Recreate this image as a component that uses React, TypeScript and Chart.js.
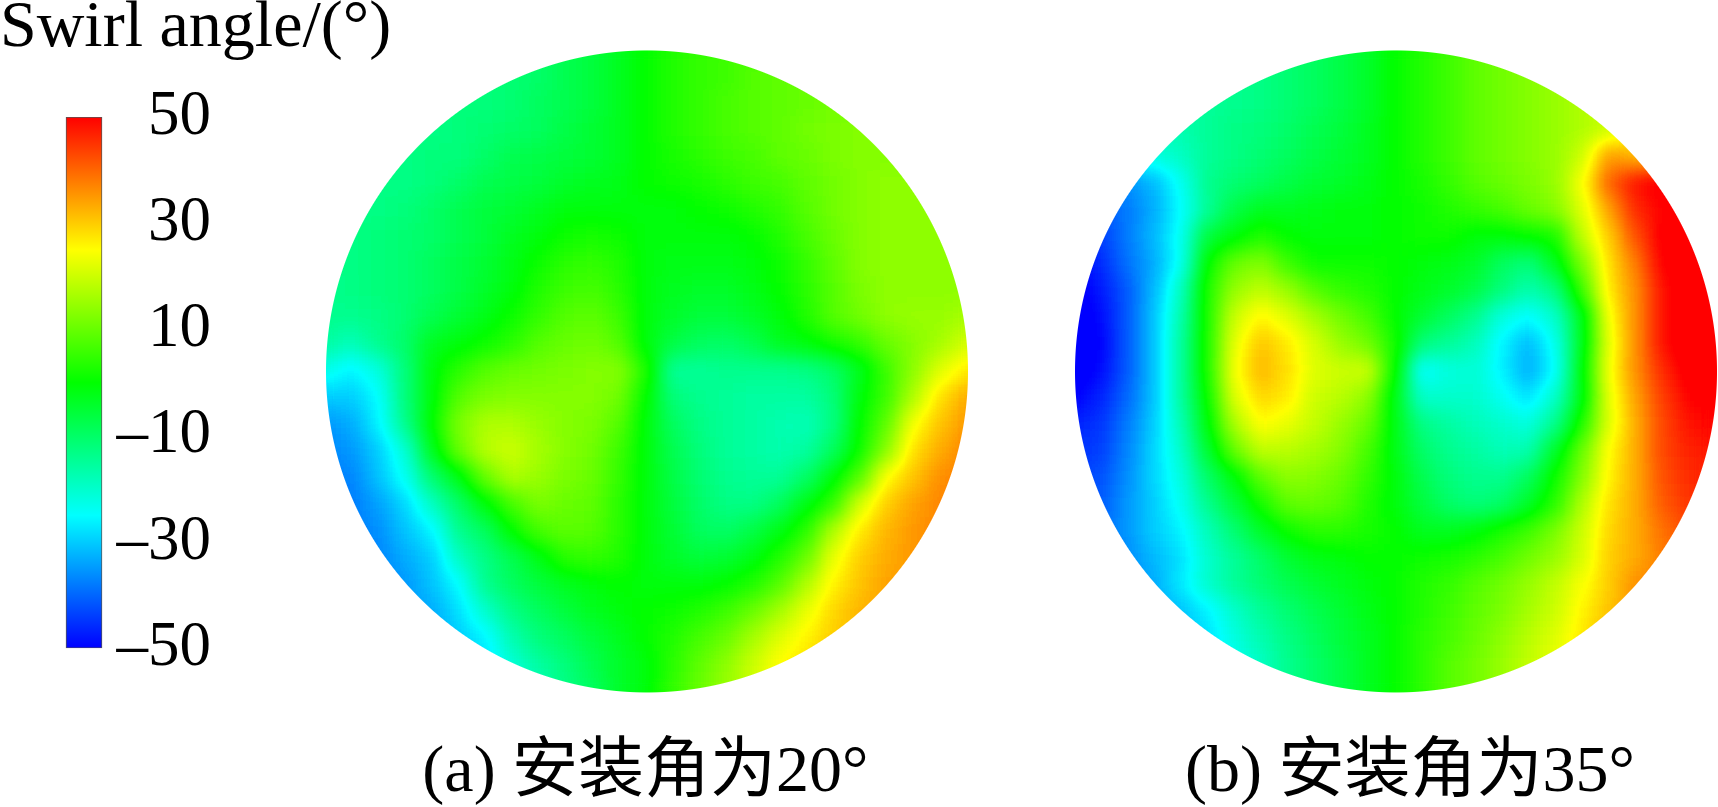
import React, { useEffect, useRef } from "react";
import { Chart, registerables } from "chart.js";

Chart.register(...registerables);

const legendTitle = "Swirl angle/(°)";
const legendRange: [number, number] = [-50, 50];
const legendStep = 20;
const captions = ["(a) 安装角为20°", "(b) 安装角为35°"];
const rainbowValues = [-50, -25, 0, 25, 50];
const rainbowColors = [
  [0, 0, 255],
  [0, 255, 255],
  [0, 255, 0],
  [255, 255, 0],
  [255, 0, 0],
];

// Swirl angle on a 25 x 25 sampling grid (rows top to bottom).
const angle20 = [
  [-13,-13,-13,-13,-13,-12,-12,-11,-10,-8,-6,-3,0,3,5,6,7,8,9,9,10,10,10,10,10],
  [-13,-13,-13,-13,-13,-12,-12,-11,-10,-8,-6,-3,0,3,5,6,8,9,10,10,11,11,11,11,11],
  [-13,-13,-13,-13,-13,-12,-12,-11,-9,-8,-6,-3,0,3,5,7,8,9,10,11,12,12,12,12,12],
  [-13,-13,-13,-13,-13,-12,-11,-10,-9,-7,-5,-3,0,3,5,7,8,9,11,12,13,13,13,13,13],
  [-13,-13,-13,-13,-12,-12,-10,-8,-7,-6,-5,-3,0,2,4,6,7,9,10,12,13,13,13,13,13],
  [-13,-13,-13,-13,-12,-10,-8,-7,-6,-4,-3,-2,0,1,2,4,6,7,9,11,13,14,14,14,14],
  [-13,-13,-13,-12,-10,-8,-6,-5,-3,-1,-1,-1,-1,-1,0,1,3,5,8,11,13,14,14,14,14],
  [-13,-13,-12,-11,-10,-8,-6,-3,-1,1,2,1,-1,-1,-1,-1,0,3,7,10,13,14,14,14,14],
  [-13,-13,-12,-11,-9,-7,-5,-2,1,4,5,3,-1,-2,-2,-2,-1,1,5,9,13,14,14,14,14],
  [-14,-13,-12,-11,-9,-7,-4,-1,3,6,7,4,-1,-3,-4,-4,-2,0,4,8,12,14,14,14,14],
  [-14,-14,-13,-11,-8,-5,-2,1,5,8,9,6,-1,-4,-6,-6,-4,-1,3,8,11,14,15,15,16],
  [-16,-18,-14,-10,-3,-1,1,4,8,10,11,8,-1,-7,-9,-10,-8,-3,-1,2,5,10,13,16,21],
  [-23,-26,-22,-12,-1,4,8,10,11,12,13,13,3,-15,-15,-14,-14,-14,-13,-10,-3,6,14,22,27],
  [-30,-30,-25,-12,-1,8,12,13,13,13,13,11,0,-12,-14,-15,-16,-16,-16,-12,-1,6,17,28,33],
  [-35,-33,-26,-14,0,12,17,17,15,13,12,8,-1,-9,-13,-15,-16,-17,-18,-13,0,9,24,31,35],
  [-37,-35,-30,-21,-3,10,18,20,16,13,11,6,-1,-8,-12,-15,-16,-17,-16,-9,1,14,28,33,37],
  [-38,-37,-31,-24,-11,-2,10,17,15,12,10,5,-1,-7,-11,-14,-15,-15,-10,-1,8,25,31,36,38],
  [-38,-38,-34,-29,-19,-10,-1,7,12,10,9,4,-1,-6,-10,-13,-13,-9,-2,5,21,30,34,37,38],
  [-38,-38,-36,-31,-26,-14,-9,0,7,9,8,4,-1,-5,-9,-10,-7,-2,4,17,27,32,35,37,38],
  [-38,-38,-37,-33,-30,-19,-13,-8,-2,4,5,3,-1,-4,-6,-5,-2,3,10,23,30,33,35,36,36],
  [-38,-38,-37,-35,-31,-25,-14,-9,-6,-3,-1,0,-1,-1,-1,0,3,8,17,26,31,34,35,35,35],
  [-38,-38,-37,-35,-33,-28,-20,-13,-9,-6,-3,-1,0,1,3,6,10,16,23,29,32,34,34,34,34],
  [-37,-37,-36,-35,-34,-30,-26,-17,-12,-9,-6,-3,0,3,7,10,16,22,26,30,32,33,33,33,33],
  [-36,-36,-35,-34,-33,-30,-28,-21,-16,-12,-8,-4,-1,4,9,14,20,25,28,30,32,33,33,33,33],
  [-35,-35,-34,-33,-32,-30,-28,-23,-18,-13,-9,-4,-1,5,10,15,20,25,28,30,32,33,33,33,33],
];

const angle35 = [
  [-17,-17,-17,-16,-16,-15,-14,-13,-11,-9,-7,-4,0,3,6,9,11,13,15,16,17,18,19,20,20],
  [-17,-17,-17,-16,-16,-15,-14,-13,-11,-9,-7,-4,0,3,6,9,11,13,15,17,18,19,20,20,20],
  [-18,-18,-18,-17,-16,-15,-14,-13,-11,-9,-7,-4,0,3,6,9,11,13,15,17,19,20,21,22,22],
  [-19,-19,-19,-18,-17,-15,-13,-12,-10,-8,-6,-3,0,3,6,9,11,13,15,17,20,24,26,26,26],
  [-24,-24,-24,-22,-19,-15,-13,-11,-9,-7,-5,-3,0,3,6,9,11,13,15,20,35,32,30,30,30],
  [-40,-38,-36,-32,-24,-14,-11,-9,-7,-5,-4,-2,0,2,5,8,10,12,15,24,40,48,52,52,52],
  [-45,-42,-38,-33,-25,-15,-7,-3,-3,-2,-1,-1,0,1,3,5,7,10,13,22,34,46,50,52,52],
  [-48,-44,-38,-32,-24,-6,-1,3,0,-1,-1,-1,0,1,1,-1,-1,0,2,19,30,42,51,53,54],
  [-50,-46,-39,-33,-24,0,10,13,6,1,1,1,0,-1,-2,-4,-9,-12,-3,12,28,38,50,54,55],
  [-52,-48,-41,-32,-19,3,15,19,15,8,5,3,0,-2,-4,-7,-12,-17,-13,6,27,36,48,54,55],
  [-53,-49,-41,-31,-17,3,20,26,22,16,11,7,0,-5,-9,-14,-22,-25,-20,-3,24,36,48,54,56],
  [-54,-50,-41,-31,-16,3,23,31,27,21,15,11,2,-12,-15,-18,-26,-32,-24,-3,23,36,48,54,56],
  [-53,-49,-41,-31,-16,3,24,32,28,22,20,20,1,-25,-22,-21,-26,-33,-25,-1,24,36,46,52,54],
  [-50,-47,-40,-31,-16,1,22,29,27,20,18,14,-2,-20,-20,-20,-24,-28,-20,-2,23,34,44,50,52],
  [-47,-45,-38,-30,-18,-1,17,25,23,19,15,10,-2,-13,-16,-18,-20,-22,-14,3,22,33,43,48,50],
  [-45,-44,-37,-29,-20,-5,10,19,18,16,13,7,-2,-10,-14,-16,-18,-17,-4,10,25,33,43,47,48],
  [-44,-42,-36,-29,-22,-10,-1,9,14,13,10,5,-1,-8,-12,-14,-14,-9,1,13,26,33,42,46,47],
  [-43,-41,-35,-30,-24,-14,-6,2,9,10,8,3,-1,-6,-10,-12,-10,-4,4,17,28,33,41,45,46],
  [-42,-40,-35,-30,-26,-18,-11,-4,1,4,4,2,0,-3,-3,-1,2,6,12,20,29,33,39,43,44],
  [-42,-41,-36,-32,-28,-20,-15,-10,-5,-2,-1,0,0,1,2,4,7,11,15,21,30,33,38,40,42],
  [-40,-40,-37,-33,-27,-20,-15,-11,-8,-5,-3,-1,0,3,5,8,11,15,19,24,30,36,38,38,38],
  [-38,-38,-36,-33,-31,-26,-20,-15,-11,-8,-5,-2,0,3,6,9,12,16,20,26,31,35,36,36,36],
  [-37,-37,-36,-34,-32,-28,-22,-17,-13,-9,-6,-3,0,4,7,10,14,18,22,27,32,35,35,35,35],
  [-36,-36,-35,-33,-31,-28,-24,-19,-14,-10,-7,-3,0,4,8,11,15,19,23,27,31,34,34,34,34],
  [-36,-36,-35,-33,-31,-28,-24,-19,-14,-10,-7,-3,0,4,8,11,15,19,23,27,31,34,34,34,34],
];

const SERIF = '"Liberation Serif", "Noto Sans CJK SC", serif';
const CODE_MIN = -60;
const CODE_MAX = 60;
const COL_OFFSET_B = 28;
const CAPTION_COLS = [11.96, 40.54];
const BLUR_PX = 10;

function rainbow(v: number): number[] {
  const c = Math.max(legendRange[0], Math.min(legendRange[1], v));
  for (let i = 1; i < rainbowValues.length; i++) {
    if (c <= rainbowValues[i]) {
      const t = (c - rainbowValues[i - 1]) / (rainbowValues[i] - rainbowValues[i - 1]);
      const a = rainbowColors[i - 1];
      const b = rainbowColors[i];
      return [0, 1, 2].map((k) => Math.round(a[k] + (b[k] - a[k]) * t));
    }
  }
  return rainbowColors[rainbowColors.length - 1];
}

// Cells are first painted with the value coded as a gray level, smoothed, then coloured.
function codeColor(v: number): string {
  const g = Math.round(((v - CODE_MIN) / (CODE_MAX - CODE_MIN)) * 255);
  return `rgb(${g},${g},${g})`;
}

const cellsOf = (rows: number[][], dx: number) =>
  rows.flatMap((row, j) => row.map((v, i) => ({ x: i + dx, y: j, v })));

const contourPlugin = {
  id: "contourSmooth",
  afterDatasetsDraw(chart: any) {
    const { ctx, canvas, scales } = chart;
    const lut: number[][] = [];
    for (let g = 0; g < 256; g++) lut.push(rainbow(CODE_MIN + (g / 255) * (CODE_MAX - CODE_MIN)));
    [0, COL_OFFSET_B].forEach((dx) => {
      const cx = scales.x.getPixelForValue(12 + dx);
      const cy = scales.y.getPixelForValue(12);
      const r = Math.abs(scales.x.getPixelForValue(12 + dx) - scales.x.getPixelForValue(dx));
      const x0 = Math.floor(cx - r - 20);
      const y0 = Math.floor(cy - r - 20);
      const w = Math.min(canvas.width - x0, Math.ceil(2 * r + 40));
      const h = Math.ceil(2 * r + 40);
      const off = document.createElement("canvas");
      off.width = w;
      off.height = h;
      const oc = off.getContext("2d", { willReadFrequently: true }) as CanvasRenderingContext2D;
      oc.filter = `blur(${BLUR_PX}px)`;
      oc.drawImage(canvas, x0, y0, w, h, 0, 0, w, h);
      const img = oc.getImageData(0, 0, w, h);
      const d = img.data;
      for (let py = 0; py < h; py++) {
        for (let px = 0; px < w; px++) {
          const k = (py * w + px) * 4;
          const dist = Math.hypot(px + x0 - cx, py + y0 - cy);
          const c = lut[d[k]];
          d[k] = c[0];
          d[k + 1] = c[1];
          d[k + 2] = c[2];
          d[k + 3] = Math.max(0, Math.min(1, r + 0.5 - dist)) * 255;
        }
      }
      ctx.save();
      ctx.clearRect(x0, y0, w, h);
      ctx.putImageData(img, x0, y0);
      ctx.restore();
    });
  },
};

export default function App() {
  const legendRef = useRef<HTMLCanvasElement>(null);
  const diskRef = useRef<HTMLCanvasElement>(null);

  useEffect(() => {
    const legend = new Chart(legendRef.current as HTMLCanvasElement, {
      type: "bar",
      data: {
        labels: [""],
        datasets: [
          {
            data: [legendRange] as any,
            barThickness: 36,
            borderWidth: 1,
            borderColor: "#555",
            borderSkipped: false,
            backgroundColor: (c: any) => {
              const area = c.chart.chartArea;
              if (!area) return "#000";
              const g = c.chart.ctx.createLinearGradient(0, area.bottom, 0, area.top);
              rainbowValues.forEach((v, i) => {
                g.addColorStop((v - legendRange[0]) / (legendRange[1] - legendRange[0]), `rgb(${rainbowColors[i].join(",")})`);
              });
              return g;
            },
          },
        ],
      },
      options: {
        animation: false,
        responsive: false,
        devicePixelRatio: 1,
        events: [],
        layout: { padding: { left: 0, right: 0, top: 0, bottom: 72 } },
        plugins: {
          legend: { display: false },
          tooltip: { enabled: false },
          title: {
            display: true,
            text: legendTitle,
            align: "start",
            color: "#000",
            font: { family: SERIF, size: 66, weight: "normal", lineHeight: 1 },
            padding: { top: -4, bottom: 55 },
          },
        },
        scales: {
          x: { display: false, grid: { display: false } },
          y: {
            position: "right",
            min: legendRange[0],
            max: legendRange[1],
            grid: { display: false },
            border: { display: false },
            afterFit: (s: any) => {
              s.width = 252;
            },
            ticks: {
              stepSize: legendStep,
              mirror: true,
              padding: 43,
              color: "#000",
              font: { family: SERIF, size: 63 },
              callback: (v: any) => (v < 0 ? `–${Math.abs(v)}` : `${v}`),
            },
          },
        },
      } as any,
    });

    const cells = [...cellsOf(angle20, 0), ...cellsOf(angle35, COL_OFFSET_B)];
    const disks = new Chart(diskRef.current as HTMLCanvasElement, {
      type: "scatter",
      data: {
        datasets: [
          {
            data: cells as any,
            pointStyle: "rect",
            borderWidth: 0,
            pointBorderWidth: 0,
            backgroundColor: (c: any) => codeColor(c.raw ? c.raw.v : 0),
            pointBackgroundColor: (c: any) => codeColor(c.raw ? c.raw.v : 0),
            pointRadius: (c: any) => {
              const s = c.chart.scales.x;
              const cell = Math.abs(s.getPixelForValue(1) - s.getPixelForValue(0));
              return (cell / 2 + 0.8) * Math.SQRT2;
            },
          },
        ],
      },
      options: {
        animation: false,
        responsive: false,
        devicePixelRatio: 1,
        events: [],
        layout: { padding: { left: 300, right: 0, top: 0, bottom: 0 } },
        plugins: { legend: { display: false }, tooltip: { enabled: false } },
        scales: {
          x: {
            type: "linear",
            min: -0.953,
            max: 52.056,
            grid: { display: false },
            border: { display: false },
            afterBuildTicks: (s: any) => {
              s.ticks = CAPTION_COLS.map((value) => ({ value }));
            },
            afterFit: (s: any) => {
              s.height = 87;
            },
            ticks: {
              autoSkip: false,
              maxRotation: 0,
              padding: 6,
              color: "#000",
              font: { family: SERIF, size: 66 },
              callback: (_v: any, i: number) => captions[i],
            },
          },
          y: { display: false, reverse: true, min: -1.869, max: 25.05 },
        },
      } as any,
      plugins: [contourPlugin],
    });

    return () => {
      legend.destroy();
      disks.destroy();
    };
  }, []);

  return (
    <div style={{ position: "fixed", left: 0, top: 0, width: 1718, height: 807, background: "#fff", overflow: "hidden" }}>
      <canvas ref={diskRef} width={1718} height={807} style={{ position: "absolute", left: 0, top: 0, width: 1718, height: 807 }} />
      <canvas ref={legendRef} width={420} height={729} style={{ position: "absolute", left: 0, top: 0, width: 420, height: 729 }} />
    </div>
  );
}
